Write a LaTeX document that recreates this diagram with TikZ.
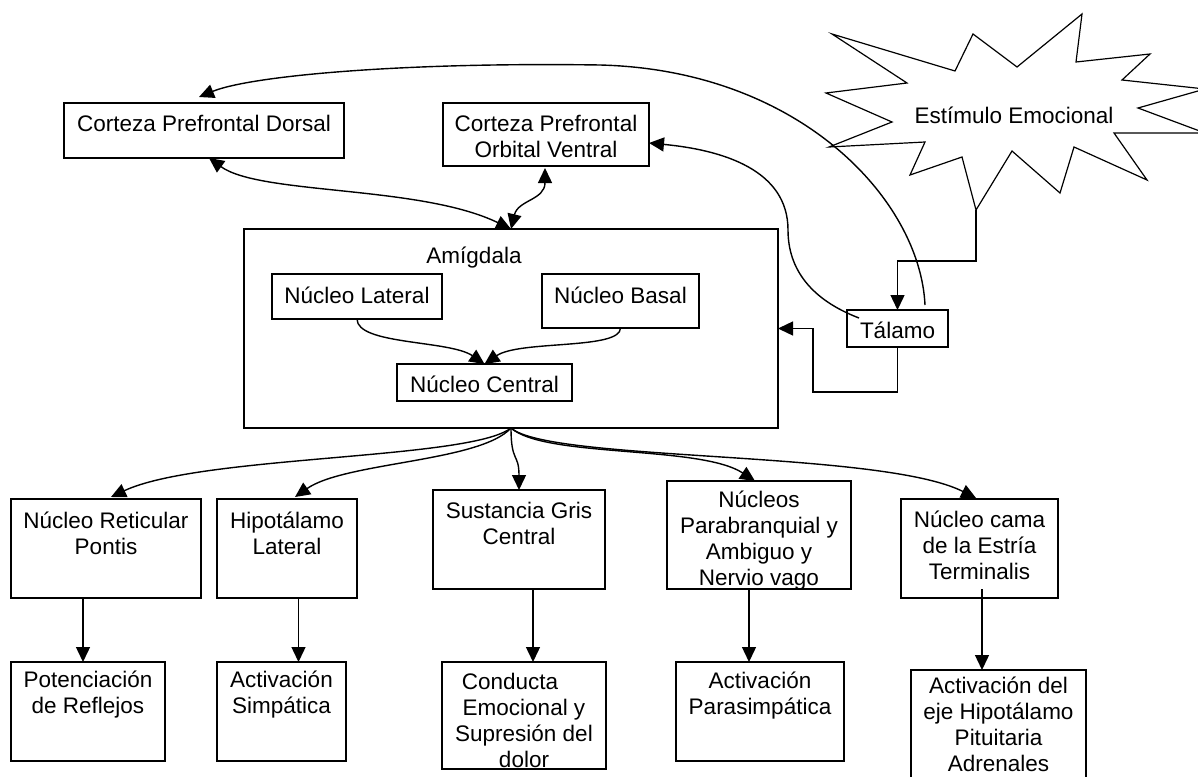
\documentclass[tikz,border=0pt]{standalone}
\usepackage{fontspec}
\setmainfont{Liberation Sans}
\usetikzlibrary{arrows.meta}
\begin{document}
\begin{tikzpicture}[x=1pt,y=-1pt,
  box/.style={draw, line width=1.4pt, inner sep=0pt, outer sep=0pt, fill=white},
  txt/.style={align=center, inner sep=0pt, font=\fontsize{22.5}{26}\selectfont},
  conn/.style={line width=1.4pt},
  arr/.style={conn, -{Triangle[length=15pt,width=14pt]}},
  biarr/.style={conn, {Triangle[length=15pt,width=14pt]}-{Triangle[length=15pt,width=14pt]}}]
\useasboundingbox (0,0) rectangle (1198,776);
\clip (0,0) rectangle (1198,776);

% star
\draw[line width=1.2pt, fill=white] (832,34) -- (955,71) -- (973,34) -- (1017,67) -- (1082,14) -- (1076,62)
  -- (1150,54) -- (1122,80) -- (1205,89) -- (1138,108) -- (1205,133) -- (1114,133)
  -- (1147,180) -- (1074,147) -- (1060,193) -- (1012,151) -- (976,210) -- (962,157)
  -- (910,175) -- (925,142) -- (829,147) -- (892,122) -- (826,93) -- (907,83) -- cycle;
\node[txt] (star) at (1014,115) {Estímulo Emocional};
\coordinate (sb) at (976,210);

% top boxes
\node[box, minimum width=280pt, minimum height=55pt] (dorsal) at (204,130.5) {};
\node[txt] (dorsalt) at (204,123) {Corteza Prefrontal Dorsal};
\node[box, minimum width=206pt, minimum height=63pt] (orbital) at (546,134.5) {};
\node[txt] (orbitalt) at (546,136.5) {Corteza Prefrontal\\Orbital Ventral};

% amygdala
\node[box, minimum width=534pt, minimum height=199pt] (amyg) at (511,328.5) {};
\node[txt] (amygt) at (474,258) {Amígdala};
\node[box, minimum width=170pt, minimum height=45pt] (lateral) at (357,296.5) {};
\node[txt] (lateralt) at (357,295) {Núcleo Lateral};
\node[box, minimum width=157pt, minimum height=54pt] (basal) at (620.5,301) {};
\node[txt] (basalt) at (620.5,295) {Núcleo Basal};
\node[box, minimum width=175pt, minimum height=37pt] (central) at (484.5,382.5) {};
\node[txt] (centralt) at (484.5,384) {Núcleo Central};

% talamo
\node[box, minimum width=101pt, minimum height=37pt] (talamo) at (897.5,328.5) {};
\node[txt] (talamot) at (897.5,330) {Tálamo};

% first row
\node[box, minimum width=190pt, minimum height=99pt] (pontis) at (106,548.5) {};
\node[txt] (pontist) at (106,533.5) {Núcleo Reticular\\Pontis};
\node[box, minimum width=140pt, minimum height=99pt] (hipot) at (287,548.5) {};
\node[txt] (hipott) at (287,533.5) {Hipotálamo\\Lateral};
\node[box, minimum width=172pt, minimum height=99pt] (sust) at (519,539.5) {};
\node[txt] (sustt) at (519,523.5) {Sustancia Gris\\Central};
\node[box, minimum width=184pt, minimum height=108pt] (parabr) at (759,535) {};
\node[txt] (parabrt) at (759,541) {Núcleos\\Parabranquial y\\Ambiguo y\\Nervio vago};
\node[box, minimum width=157pt, minimum height=99pt] (cama) at (979.5,548.5) {};
\node[txt] (camat) at (979.5,545.5) {Núcleo cama\\de la Estría\\Terminalis};

% second row
\node[box, minimum width=154pt, minimum height=99pt] (potenc) at (88,711.5) {};
\node[txt] (potenct) at (88,695) {Potenciación\\de Reflejos};
\node[box, minimum width=129pt, minimum height=99pt] (simp) at (281.5,711.5) {};
\node[txt] (simpt) at (281.5,695) {Activación\\Simpática};
\node[box, minimum width=164pt, minimum height=107pt] (conducta) at (524,715.5) {};
\node[txt] (conductat) at (524,720.5) {Conducta\rule{28pt}{0pt}\\Emocional y\\Supresión del\\dolor};
\node[box, minimum width=168pt, minimum height=99pt] (parasimp) at (760,711.5) {};
\node[txt] (parasimpt) at (760,695.5) {Activación\\Parasimpática};
\node[box, minimum width=175pt, minimum height=130pt] (eje) at (998.5,735) {};
\node[txt] (ejet) at (998.5,724) {Activación del\\eje Hipotálamo\\Pituitaria\\Adrenales};

% waypoints
\coordinate (w1) at (788,230);
\coordinate (w2) at (600,65);
\coordinate (w3) at (813,392);

% star -> talamo
\draw[arr] (sb) -- ++(0,51) -| (talamo.north);
% talamo -> amygdala
\draw[arr] (talamo.south) |- (w3) |- (amyg.east);
% talamo -> orbital
\draw[arr] ([xshift=12pt,yshift=-8pt]talamo.north west) .. controls +(-47,-18) and +(0,40) .. (w1)
  .. controls +(0,-60) and +(74,7) .. ([yshift=-8.5pt]orbital.east);
% talamo -> dorsal
\draw[arr] ([xshift=-23pt,yshift=5pt]talamo.north east) .. controls +(-5,-105) and +(200,5) .. (w2)
  .. controls +(-200,-3) and +(51,-21) .. ([xshift=-5pt,yshift=6pt]dorsal.north);
% cortex <-> amygdala
\draw[biarr] ([xshift=5pt]dorsal.south) .. controls +(51,37) and +(-91,-44) .. (amyg.north);
\draw[biarr] (amyg.north) .. controls +(7,-29) and +(0,32) .. ([xshift=-1pt,yshift=-2pt]orbital.south);
% inner arrows
\draw[arr] (lateral.south) .. controls +(0,26) and +(-35,-24) .. (central.north);
\draw[arr] (basal.south) .. controls +(0,22) and +(35,-24) .. (central.north);
% fan
\draw[arr] (amyg.south) .. controls +(-41,32) and +(89,-42) .. ([xshift=5pt,yshift=2pt]pontis.north);
\draw[arr] (amyg.south) .. controls +(-31,34) and +(50,-35) .. ([xshift=8pt,yshift=2pt]hipot.north);
\draw[arr] (amyg.south) .. controls +(0,35) and +(0,-37) .. (sust.north);
\draw[arr] (amyg.south) .. controls +(34,30) and +(-55,-36) .. ([xshift=-4pt]parabr.north);
\draw[arr] (amyg.south) .. controls +(39,34) and +(-96,-48) .. ([xshift=-3.5pt,yshift=1pt]cama.north);
% vertical arrows
\draw[arr] ([xshift=-23pt]pontis.south) -- ([xshift=-5pt]potenc.north);
\draw[arr] ([xshift=11.5pt]hipot.south) -- ([xshift=17pt]simp.north);
\draw[arr] ([xshift=14pt]sust.south) -- ([xshift=9pt]conducta.north);
\draw[arr] ([xshift=-10pt]parabr.south) -- ([xshift=-11pt]parasimp.north);
\draw[arr] ([xshift=2.5pt,yshift=9pt]cama.south) -- ([xshift=-16.5pt]eje.north);
\end{tikzpicture}
\end{document}
